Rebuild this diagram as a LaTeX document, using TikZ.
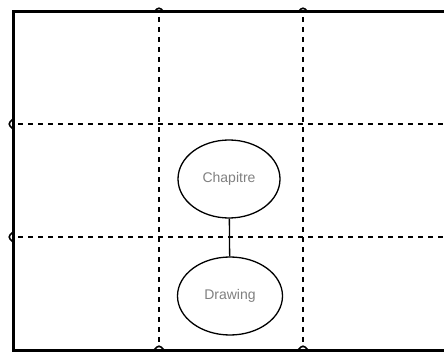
\documentclass[tikz,border=0pt]{standalone}
\usepackage{fontspec}
\setmainfont{Liberation Sans}
\usetikzlibrary{shapes.geometric}
\tikzset{
    vertex/.style={ellipse,draw,line width=1.3pt,minimum width=102pt,minimum height=78pt,inner sep=0pt,text=black!50,font=\fontsize{14}{16}\selectfont},
    edge/.style={line width=1.3pt},
    grid/.style={line width=2.4pt,dash pattern=on 5pt off 5pt},
    frame/.style={line width=3pt}
}
\begin{document}
\begin{tikzpicture}[x=1pt,y=-1pt]
                        \useasboundingbox (0,0) rectangle (444,352);
                        % grid
                            \coordinate (tl) at (13,12);
                            \coordinate (tr) at (446,12);
                            \coordinate (bl) at (13,350);
                            \coordinate (br) at (446,350);
                            \draw[grid] (159,17) -- (159,347);
                            \draw[grid] (303,17) -- (303,347);
                            \draw[grid] (18,124) -- (446,124);
                            \draw[grid] (18,237) -- (446,237);
                            \draw[frame] (tr) -- (tl) -- (bl) -- (br);
                        % bumps
                            \foreach \x in {159,303} {
                                \draw[line width=1.6pt] (\x-5,12) .. controls (\x-1,7) and (\x+1,7) .. (\x+5,12);
                                \draw[line width=1.6pt] (\x-5,350) .. controls (\x-1,345) and (\x+1,345) .. (\x+5,350);
                            }
                            \foreach \y in {124,237}
                                \draw[line width=1.6pt] (13,\y-5) .. controls (8,\y-1) and (8,\y+1) .. (13,\y+5);
                        % vertices
                            \node[vertex] (1) at (229,179) {Chapitre};
                            \node[vertex,minimum width=105pt] (2) at (230,296) {Drawing};
                        %edges
                        \draw[edge] (1) -- (2);
                        \end{tikzpicture}
\end{document}
